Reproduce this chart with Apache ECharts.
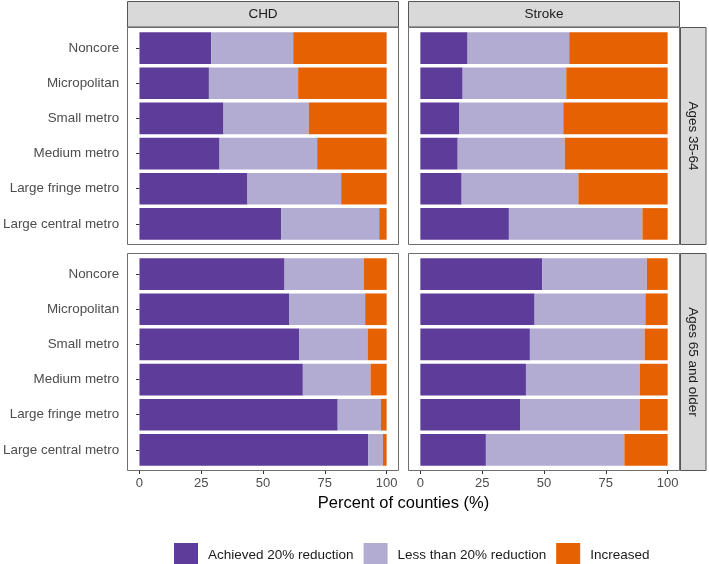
<!DOCTYPE html>
<html>
<head>
<meta charset="utf-8">
<script src="https://cdn.jsdelivr.net/npm/echarts@6/dist/echarts.min.js"></script>
<style>
    html, body { margin: 0; padding: 0; background: #fff; }
    #main { width: 709px; height: 564px; }
</style>
</head>
<body>
<div id="main"></div>
<script>
// categories, top to bottom
var categories = ['Noncore', 'Micropolitan', 'Small metro', 'Medium metro', 'Large fringe metro', 'Large central metro'];
var columnNames = ['CHD', 'Stroke'];
var rowNames = ['Ages 35-64', 'Ages 65 and older'];
var groups = ['Achieved 20% reduction', 'Less than 20% reduction', 'Increased'];
var xTicks = [0, 25, 50, 75, 100];

// CHD, ages 35-64
var chdYoungAchieved = [29.0, 28.1, 34.0, 32.4, 43.7, 57.4];
var chdYoungLess = [33.2, 36.1, 34.5, 39.5, 37.9, 39.6];
var chdYoungIncreased = [37.8, 35.8, 31.5, 28.1, 18.4, 3.0];
// Stroke, ages 35-64
var strokeYoungAchieved = [19.1, 17.1, 15.8, 15.1, 16.7, 35.8];
var strokeYoungLess = [41.1, 41.9, 42.0, 43.3, 47.2, 54.0];
var strokeYoungIncreased = [39.8, 41.0, 42.2, 41.6, 36.1, 10.2];
// CHD, ages 65 and older
var chdOldAchieved = [58.7, 60.5, 64.7, 66.1, 80.2, 92.6];
var chdOldLess = [32.0, 30.8, 27.6, 27.4, 17.5, 5.9];
var chdOldIncreased = [9.3, 8.7, 7.7, 6.5, 2.3, 1.5];
// Stroke, ages 65 and older
var strokeOldAchieved = [49.3, 46.2, 44.3, 42.7, 40.3, 26.5];
var strokeOldLess = [42.3, 44.8, 46.4, 46.0, 48.4, 56.0];
var strokeOldIncreased = [8.4, 9.0, 9.3, 11.3, 11.3, 17.5];

var colors = ['#5e3c99', '#b2abd2', '#e66101'];
var font = "'Liberation Sans', Arial, sans-serif";

// 面板布局
var panelLeft = [127, 408];
var panelTop = [27, 253];
var panelWidth = 272;
var panelHeight = 218;
// ggplot 离散轴两端各扩展 0.6
var inset = panelHeight * 0.1 / 6.2;

var panels = [
    {row: 0, col: 0, data: [chdYoungAchieved, chdYoungLess, chdYoungIncreased]},
    {row: 0, col: 1, data: [strokeYoungAchieved, strokeYoungLess, strokeYoungIncreased]},
    {row: 1, col: 0, data: [chdOldAchieved, chdOldLess, chdOldIncreased]},
    {row: 1, col: 1, data: [strokeOldAchieved, strokeOldLess, strokeOldIncreased]}
];

var grids = [], xAxes = [], yAxes = [], series = [], graphics = [];

var $each = function (arr, fn) { for (var i = 0; i < arr.length; i++) fn(i, arr[i]); };

$each(panels, function (index, p) {
    grids.push({
        left: panelLeft[p.col],
        top: panelTop[p.row] + inset,
        width: panelWidth,
        height: panelHeight - 2 * inset
    });
    xAxes.push({
        gridIndex: index,
        type: 'value',
        min: -5,
        max: 105,
        offset: inset,
        axisLine: {show: false},
        splitLine: {show: false},
        axisTick: {show: p.row === 1, length: 3, customValues: xTicks, lineStyle: {color: '#333'}},
        axisLabel: {show: p.row === 1, customValues: xTicks, margin: 6, color: '#4d4d4d', fontSize: 13, fontFamily: font}
    });
    yAxes.push({
        gridIndex: index,
        type: 'category',
        data: categories,
        inverse: true,
        axisLine: {show: false},
        axisTick: {show: p.col === 0, length: 3.5, alignWithLabel: true, lineStyle: {color: '#333'}},
        axisLabel: {show: p.col === 0, margin: 8, color: '#4d4d4d', fontSize: 13.4, fontFamily: font}
    });
    for (var g = 0; g < groups.length; g++) {
        series.push({
            type: 'bar',
            name: groups[g],
            xAxisIndex: index,
            yAxisIndex: index,
            stack: 'panel' + index,
            barCategoryGap: '10%',
            itemStyle: {color: colors[g]},
            data: p.data[g]
        });
    }
    // 面板边框
    graphics.push({
        type: 'rect',
        shape: {x: panelLeft[p.col] + 0.5, y: panelTop[p.row] + 0.5, width: panelWidth - 1, height: panelHeight - 1},
        style: {fill: null, stroke: '#6e6e6e', lineWidth: 1},
        z: 10
    });
});

// 顶部分面标签
$each(columnNames, function (c, name) {
    graphics.push({
        type: 'rect',
        shape: {x: panelLeft[c] + 0.5, y: 1.5, width: panelWidth - 1, height: panelTop[0] - 1.5},
        style: {fill: '#d9d9d9', stroke: '#555', lineWidth: 1}
    });
    graphics.push({
        type: 'text',
        x: panelLeft[c] + panelWidth / 2,
        y: 1.5 + (panelTop[0] - 1.5) / 2,
        style: {text: name, fill: '#1a1a1a', font: '13.5px ' + font, textAlign: 'center', textVerticalAlign: 'middle'}
    });
});

// 右侧分面标签
var stripX = panelLeft[1] + panelWidth;
$each(rowNames, function (r, name) {
    graphics.push({
        type: 'rect',
        shape: {x: stripX + 0.5, y: panelTop[r] + 0.5, width: 25.5, height: panelHeight - 1},
        style: {fill: '#d9d9d9', stroke: '#555', lineWidth: 1}
    });
    graphics.push({
        type: 'text',
        x: stripX + 13,
        y: panelTop[r] + panelHeight / 2,
        rotation: -Math.PI / 2,
        style: {text: name, fill: '#1a1a1a', font: '13.5px ' + font, textAlign: 'center', textVerticalAlign: 'middle'}
    });
});

// x 轴标题
graphics.push({
    type: 'text',
    x: (panelLeft[0] + panelLeft[1] + panelWidth) / 2,
    y: 503,
    style: {text: 'Percent of counties (%)', fill: '#000', font: '16.5px ' + font, textAlign: 'center', textVerticalAlign: 'middle'}
});

var option = {
    animation: false,
    legend: {
        data: groups,
        left: 169,
        top: 538,
        itemWidth: 24,
        itemHeight: 24,
        itemGap: 10,
        icon: 'rect',
        selectedMode: false,
        textStyle: {fontSize: 13.5, color: '#1a1a1a', fontFamily: font, padding: [0, 0, 0, 5]}
    },
    grid: grids,
    xAxis: xAxes,
    yAxis: yAxes,
    series: series,
    graphic: graphics
};

var myChart = echarts.init(document.getElementById('main'));
myChart.setOption(option);
</script>
</body>
</html>
